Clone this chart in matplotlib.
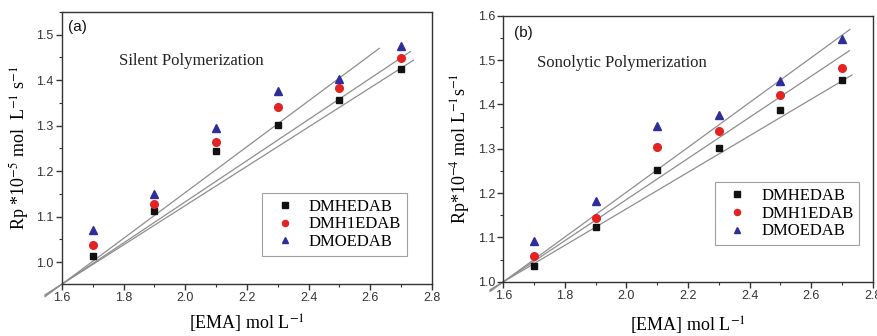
import matplotlib
matplotlib.use("Agg")
import matplotlib.pyplot as plt
import numpy as np
from matplotlib.ticker import MultipleLocator

plt.rcParams["mathtext.fontset"] = "stix"

# ---- data ----
ema = [1.7, 1.9, 2.1, 2.3, 2.5, 2.7]
series_names = ["DMHEDAB", "DMH1EDAB", "DMOEDAB"]

# panel (a) silent polymerization, Rp*10^-5
silent_dmhedab = [1.014, 1.112, 1.245, 1.302, 1.357, 1.425]
silent_dmh1edab = [1.037, 1.128, 1.265, 1.341, 1.383, 1.448]
silent_dmoedab = [1.070, 1.149, 1.294, 1.376, 1.403, 1.476]

# panel (b) sonolytic polymerization, Rp*10^-4
sono_dmhedab = [1.036, 1.124, 1.252, 1.301, 1.388, 1.455]
sono_dmh1edab = [1.058, 1.143, 1.304, 1.341, 1.421, 1.483]
sono_dmoedab = [1.091, 1.181, 1.351, 1.376, 1.453, 1.547]

# fitted lines: endpoints of each regression line
silent_fit_x = [[1.545, 2.629], [1.545, 2.73], [1.545, 2.74]]
silent_fit_y = [[0.924, 1.470], [0.927, 1.463], [0.928, 1.444]]
sono_fit_x = [[1.557, 2.726], [1.557, 2.724], [1.557, 2.732]]
sono_fit_y = [[0.978, 1.569], [0.980, 1.521], [0.982, 1.466]]

colors = ["#111111", "#e32322", "#2e2e9a"]
markers = ["s", "o", "^"]
msizes = [5.0, 5.5, 5.5]

serif = ["Liberation Serif", "DejaVu Serif"]
sans = ["Liberation Sans", "DejaVu Sans"]

fig = plt.figure(figsize=(8.78, 3.36), dpi=100)
ax1 = fig.add_axes([0.0706, 0.1548, 0.4214, 0.8095])
ax2 = fig.add_axes([0.5733, 0.1616, 0.4207, 0.7917])


def draw(ax, ys, fx, fy, ylim, ylabel, title, tag, leg_anchor, txtpos, tagpos, xlpad):
    for i in range(3):
        ax.plot(fx[i], fy[i], color="#8e8e8e", lw=0.9, clip_on=False, zorder=1)
    for i in range(3):
        ax.plot(ema, ys[i], linestyle="none", marker=markers[i], color=colors[i],
                markersize=msizes[i], label=series_names[i], zorder=3)
    ax.set_xlim(1.6, 2.8)
    ax.set_ylim(*ylim)
    ax.xaxis.set_major_locator(MultipleLocator(0.2))
    ax.xaxis.set_minor_locator(MultipleLocator(0.1))
    ax.yaxis.set_major_locator(MultipleLocator(0.1))
    ax.yaxis.set_minor_locator(MultipleLocator(0.05))
    ax.tick_params(which="major", direction="out", length=4, width=1, color="#333333",
                   labelsize=9, labelcolor="#333333", pad=2)
    ax.tick_params(which="minor", direction="out", length=2, width=0.8, color="#333333")
    for lab in ax.get_xticklabels() + ax.get_yticklabels():
        lab.set_family(sans)
    for s in ax.spines.values():
        s.set_color("#333333")
        s.set_linewidth(1.0)
    ax.set_xlabel("[EMA] mol L$^{-1}$", family=serif, fontsize=13, labelpad=xlpad)
    ax.set_ylabel(ylabel, family=serif, fontsize=13, labelpad=4)
    ax.text(txtpos[0], txtpos[1], title, transform=ax.transAxes, family=serif,
            fontsize=12, va="center", ha="left", color="#222222")
    ax.text(tagpos[0], tagpos[1], tag, transform=ax.transAxes, family=sans,
            fontsize=11, va="center", ha="left", color="#111111")
    leg = ax.legend(loc="upper right", bbox_to_anchor=leg_anchor, frameon=True,
                    fancybox=False, edgecolor="#888888", prop={"family": serif, "size": 12},
                    markerscale=0.8, labelspacing=0.1, handletextpad=0.45,
                    handlelength=2.0, borderpad=0.35, borderaxespad=0)
    leg.get_frame().set_linewidth(0.8)


draw(ax1, [silent_dmhedab, silent_dmh1edab, silent_dmoedab], silent_fit_x, silent_fit_y,
     (0.952, 1.55), "Rp *10$^{-5}$ mol  L$^{-1}$ s$^{-1}$", "Silent Polymerization", "(a)",
     (0.932, 0.335), (0.154, 0.82), (0.016, 0.945), 6)
draw(ax2, [sono_dmhedab, sono_dmh1edab, sono_dmoedab], sono_fit_x, sono_fit_y,
     (1.0, 1.6), "Rp*10$^{-4}$ mol L$^{-1}$s$^{-1}$", "Sonolytic Polymerization", "(b)",
     (0.964, 0.374), (0.091, 0.822), (0.029, 0.935), 9)

fig.savefig("out.png", dpi=100)
